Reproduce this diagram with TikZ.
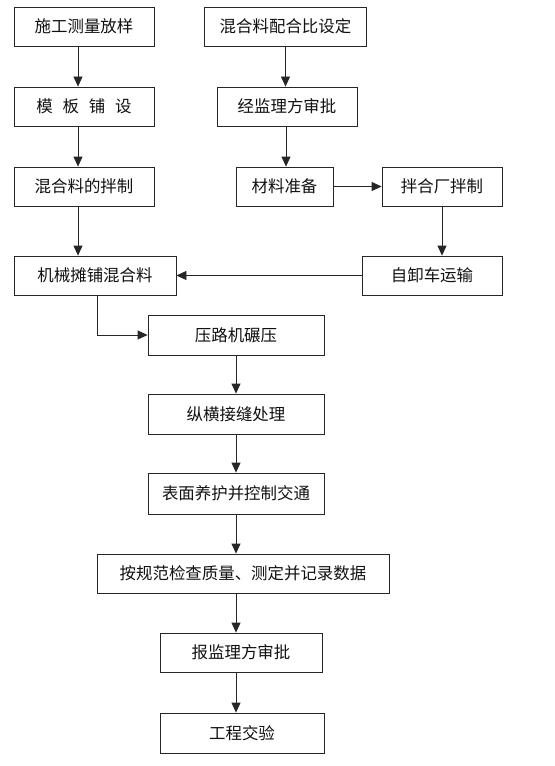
\documentclass[tikz,border=0pt]{standalone}
\usepackage{fontspec}
\setmainfont{Noto Sans CJK SC}
\usetikzlibrary{arrows.meta}
\definecolor{fxline}{HTML}{262626}
\definecolor{fxtext}{HTML}{111111}
\tikzset{
  etapa/.style={draw=fxline,line width=0.8pt,fill=white,minimum height=39bp,inner sep=0pt,
    font=\fontsize{16.5}{19}\selectfont,text=fxtext},
  fluxo/.style={draw=fxline,line width=0.8pt,-{Triangle[length=10bp,width=9bp]}},
}
\begin{document}
\begin{tikzpicture}[x=1bp,y=-1bp]
  \useasboundingbox (0,0) rectangle (555,766);
  % coluna esquerda
  \node[etapa,minimum width=140bp] (b1) at (84,26.5) {施工测量放样};
  \node[etapa,minimum width=140bp] (b2) at (84,106.5) {模\hspace{0.6em}板\hspace{0.6em}铺\hspace{0.6em}设};
  \node[etapa,minimum width=140bp] (b3) at (84,186.5) {混合料的拌制};
  % coluna direita
  \node[etapa,minimum width=162bp] (b4) at (285.5,26.5) {混合料配合比设定};
  \node[etapa,minimum width=140bp] (b5) at (287,106.5) {经监理方审批};
  \node[etapa,minimum width=97bp] (b6) at (284.5,186.5) {材料准备};
  \node[etapa,minimum width=120bp] (b7) at (442,186.5) {拌合厂拌制};
  \node[etapa,minimum width=140bp] (b9) at (432,275.5) {自卸车运输};
  % sequencia principal
  \node[etapa,minimum width=162bp] (b8) at (95,275.5) {机械摊铺混合料};
  \node[etapa,minimum width=176bp,minimum height=40bp] (b10) at (236,335) {压路机碾压};
  \node[etapa,minimum width=176bp,minimum height=40bp] (b11) at (236,414) {纵横接缝处理};
  \node[etapa,minimum width=176bp,minimum height=41bp] (b12) at (236,493.5) {表面养护并控制交通};
  \node[etapa,minimum width=292bp] (b13) at (243,573.5) {按规范检查质量、测定并记录数据};
  \node[etapa,minimum width=162bp] (b14) at (241,652.5) {报监理方审批};
  \node[etapa,minimum width=164bp,minimum height=40bp] (b15) at (242,733) {工程交验};

  \draw[fluxo] ([xshift=-6bp]b1.south) -- ([xshift=-6bp]b2.north);
  \draw[fluxo] ([xshift=-6bp]b2.south) -- ([xshift=-6bp]b3.north);
  \draw[fluxo] ([xshift=-6bp]b3.south) -- ([xshift=-6bp]b3.south |- b8.north);
  \draw[fluxo] (b4.south) -- (b4.south |- b5.north);
  \draw[fluxo] ([xshift=-1bp]b5.south) -- ([xshift=-1bp]b5.south |- b6.north);
  \draw[fluxo] (b6.east) -- (b7.west);
  \draw[fluxo] (b7.south) -- (b7.south |- b9.north);
  \draw[fluxo] (b9.west) -- (b8.east);
  \draw[fluxo] ([xshift=2bp]b8.south) |- (b10.west);
  \draw[fluxo] (b10) -- (b11);
  \draw[fluxo] (b11) -- (b12);
  \draw[fluxo] (b12.south) -- (b12.south |- b13.north);
  \draw[fluxo] (b12.south |- b13.south) -- (b12.south |- b14.north);
  \draw[fluxo] (b12.south |- b14.south) -- (b12.south |- b15.north);
\end{tikzpicture}
\end{document}
